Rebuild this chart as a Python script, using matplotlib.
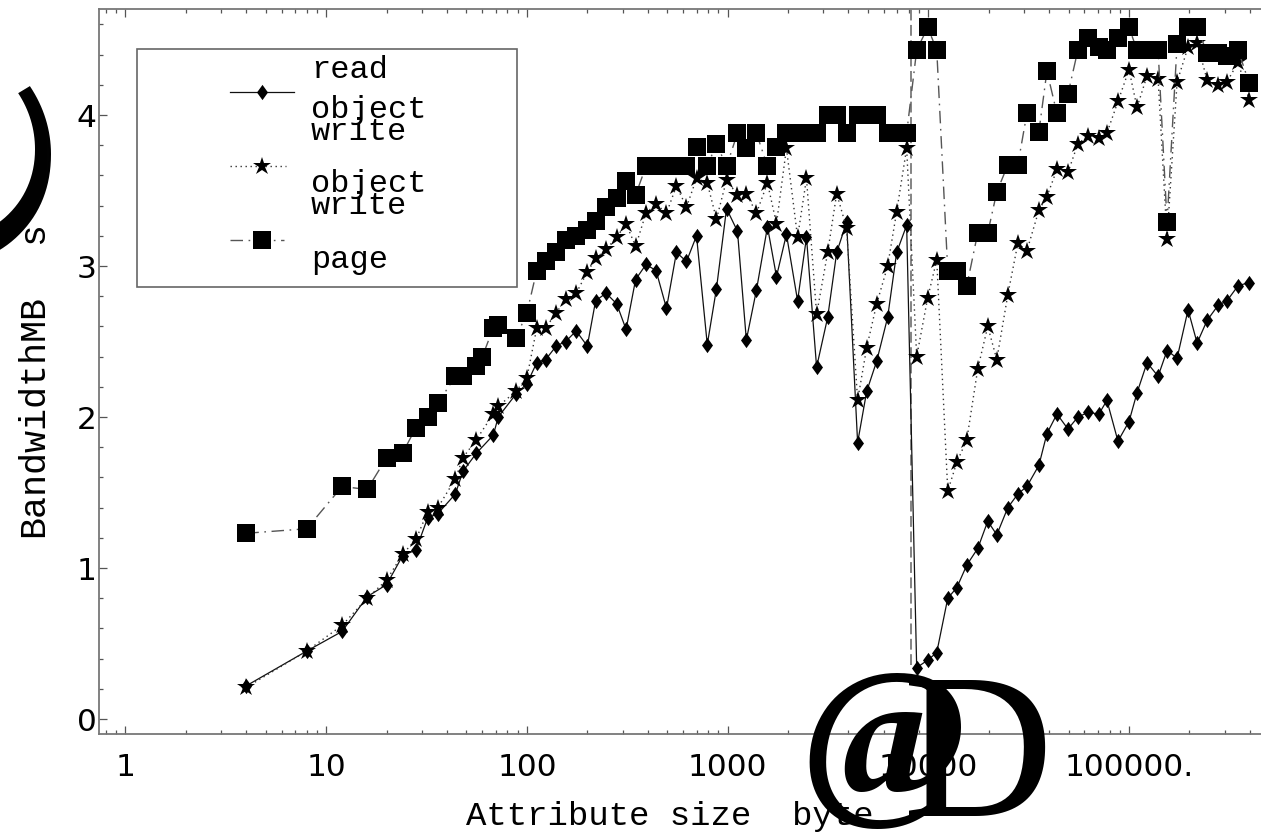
import matplotlib
matplotlib.use("Agg")
import matplotlib.pyplot as plt
from matplotlib.lines import Line2D
from matplotlib.patches import Rectangle
from matplotlib.ticker import FixedLocator, FixedFormatter, LogLocator, NullFormatter, MultipleLocator

W, H, DPI = 1261, 832, 100

# ---------------------------------------------------------------- data
read_sizes = [4, 8, 12, 16, 20, 24, 28, 32, 36, 44,
              48, 56, 68, 72, 88, 100, 112, 124, 140, 156,
              176, 200, 220, 248, 280, 312, 348, 392, 440, 496,
              556, 624, 700, 792, 880, 988, 1120, 1240, 1392, 1580,
              1752, 1964, 2232, 2472, 2776, 3152, 3496, 3916, 4444, 4932,
              5532, 6272, 6956, 7800, 8752, 9932, 11016, 12500, 13868, 15556,
              17640, 19780, 21940, 24900, 27932, 30980, 35560, 38992, 43752, 49652,
              55620, 62400, 70800, 77600, 88100, 100000, 109600, 123000, 139600, 154700,
              173600, 196900, 218400, 245000, 278000, 308000, 349700, 397000]
read_object = [0.22, 0.45, 0.58, 0.81, 0.89, 1.08, 1.12, 1.33, 1.36, 1.49,
               1.64, 1.76, 1.88, 2.00, 2.15, 2.22, 2.36, 2.38, 2.47, 2.50,
               2.57, 2.47, 2.77, 2.82, 2.75, 2.58, 2.91, 3.01, 2.97, 2.72,
               3.09, 3.03, 3.20, 2.48, 2.85, 3.38, 3.23, 2.51, 2.84, 3.26,
               2.93, 3.21, 2.77, 3.19, 2.33, 2.66, 3.09, 3.29, 1.83, 2.17,
               2.37, 2.66, 3.09, 3.27, 0.34, 0.39, 0.44, 0.80, 0.87, 1.02,
               1.13, 1.31, 1.22, 1.40, 1.49, 1.54, 1.68, 1.89, 2.02, 1.92,
               2.00, 2.03, 2.02, 2.11, 1.84, 1.97, 2.16, 2.36, 2.27, 2.44,
               2.39, 2.71, 2.49, 2.64, 2.74, 2.77, 2.87, 2.89]

object_sizes = list(read_sizes)
write_object = [0.21, 0.45, 0.62, 0.80, 0.92, 1.09, 1.19, 1.37, 1.40, 1.59,
                1.73, 1.85, 2.02, 2.07, 2.17, 2.26, 2.59, 2.59, 2.69, 2.78,
                2.82, 2.96, 3.05, 3.11, 3.19, 3.28, 3.13, 3.35, 3.41, 3.35,
                3.53, 3.39, 3.58, 3.55, 3.31, 3.57, 3.47, 3.48, 3.35, 3.55,
                3.28, 3.78, 3.19, 3.58, 2.68, 3.09, 3.48, 3.25, 2.11, 2.46,
                2.75, 3.00, 3.36, 3.78, 2.40, 2.79, 3.04, 1.51, 1.70, 1.85,
                2.32, 2.60, 2.38, 2.81, 3.15, 3.10, 3.37, 3.46, 3.64, 3.62,
                3.81, 3.86, 3.85, 3.88, 4.09, 4.30, 4.05, 4.26, 4.24, 3.18,
                4.22, 4.45, 4.48, 4.23, 4.20, 4.22, 4.35, 4.10]

page_sizes = [4, 8, 12, 16, 20, 24, 28, 32, 36, 44,
              48, 56, 60, 68, 72, 88, 100, 112, 124, 140,
              156, 176, 200, 220, 248, 280, 312, 348, 392, 440,
              496, 556, 624, 700, 792, 880, 988, 1120, 1240, 1392,
              1580, 1752, 1964, 2232, 2472, 2776, 3152, 3496, 3916, 4444,
              4932, 5532, 6272, 6956, 7800, 8752, 9932, 11016, 12500, 13868,
              15556, 17640, 19780, 21940, 24900, 27932, 30980, 35560, 38992, 43752,
              49652, 55620, 62400, 70800, 77600, 88100, 100000, 109600, 123000, 139600,
              154700, 173600, 196900, 218400, 245000, 278000, 308000, 349700, 397000]
write_page = [1.23, 1.26, 1.54, 1.52, 1.73, 1.76, 1.93, 2.00, 2.09, 2.27,
              2.27, 2.34, 2.40, 2.59, 2.61, 2.52, 2.69, 2.97, 3.03, 3.09,
              3.17, 3.20, 3.24, 3.30, 3.39, 3.45, 3.56, 3.47, 3.66, 3.66,
              3.66, 3.66, 3.66, 3.79, 3.66, 3.81, 3.66, 3.88, 3.78, 3.88,
              3.66, 3.79, 3.88, 3.88, 3.88, 3.88, 4.00, 4.00, 3.88, 4.00,
              4.00, 4.00, 3.88, 3.88, 3.88, 4.43, 4.58, 4.43, 2.97, 2.97,
              2.87, 3.22, 3.22, 3.49, 3.67, 3.67, 4.01, 3.89, 4.29, 4.01,
              4.14, 4.43, 4.51, 4.45, 4.43, 4.51, 4.58, 4.43, 4.43, 4.43,
              3.29, 4.47, 4.58, 4.58, 4.41, 4.41, 4.39, 4.43, 4.21]

page_boundary = 8192          # bytes, dashed marker line
page_boundary_floor = 0.36

x_ticks = [1, 10, 100, 1000, 10000, 100000]
x_tick_labels = ["1", "10", "100", "1000", "10000", "100000."]
y_ticks = [0, 1, 2, 3, 4]
y_tick_labels = ["0", "1", "2", "3", "4"]

# ---------------------------------------------------------------- helpers
def fx(px):
    return px / W

def fy(py):
    return 1.0 - py / H

MONO = "Liberation Mono"
SERIF = "Liberation Serif"
GRAY = "#777777"

diamond = [(0, 1), (0.72, 0), (0, -1), (-0.72, 0), (0, 1)]

read_style = dict(color="#111111", lw=0.9, ls="-", marker=diamond, ms=11.0,
                  mfc="black", mec="black", mew=0)
object_style = dict(color="#333333", lw=1.0, ls=(0, (1.0, 2.6)), marker="*", ms=13.5,
                    mfc="black", mec="black", mew=0)
page_style = dict(color="#555555", lw=1.0, ls=(0, (9, 4, 1.2, 4)), marker="s", ms=13.4,
                  mfc="black", mec="black", mew=0)

# ---------------------------------------------------------------- figure
fig = plt.figure(figsize=(W / DPI, H / DPI), dpi=DPI)
left_px, right_px, top_px, bottom_px = 99, 1262, 9, 734
ax = fig.add_axes([fx(left_px), fy(bottom_px), (right_px - left_px) / W, (bottom_px - top_px) / H])

ax.set_xscale("log")
ax.set_xlim(0.738, 459800)
ax.set_ylim(-0.0993, 4.702)

ax.plot([page_boundary, page_boundary], [page_boundary_floor, 5.0], color="#7a7a7a",
        lw=1.3, ls=(0, (6, 2.5)), zorder=1)
ax.plot(read_sizes, read_object, zorder=3, **read_style)
ax.plot(object_sizes, write_object, zorder=4, **object_style)
ax.plot(page_sizes, write_page, zorder=5, **page_style)

# axes frame and ticks
for side in ("left", "bottom", "top"):
    ax.spines[side].set_color(GRAY)
    ax.spines[side].set_linewidth(1.3)
ax.spines["right"].set_visible(False)

ax.xaxis.set_major_locator(FixedLocator(x_ticks))
ax.xaxis.set_major_formatter(FixedFormatter(x_tick_labels))
ax.xaxis.set_minor_locator(LogLocator(base=10, subs=range(2, 10), numticks=20))
ax.xaxis.set_minor_formatter(NullFormatter())
ax.yaxis.set_major_locator(FixedLocator(y_ticks))
ax.yaxis.set_major_formatter(FixedFormatter(y_tick_labels))
ax.yaxis.set_minor_locator(MultipleLocator(0.2))

ax.tick_params(which="both", direction="in", top=True, right=False, color="#555555", width=0.9)
ax.tick_params(which="major", length=5.5)
ax.tick_params(which="minor", length=3.0)
ax.tick_params(axis="x", which="major", labelsize=22.5, pad=14, labelcolor="black")
ax.tick_params(axis="y", which="major", labelsize=22.5, pad=1.5, labelcolor="black")
for lbl in ax.get_xticklabels() + ax.get_yticklabels():
    lbl.set_fontfamily("DejaVu Sans")

# ---------------------------------------------------------------- legend
box = Rectangle((fx(137), fy(287)), fx(517) - fx(137), fy(49) - fy(287),
                transform=fig.transFigure, facecolor="white", edgecolor="#666666",
                lw=1.2, zorder=10)
fig.add_artist(box)

def legend_sample(y_px, style, x0=230, x1=294, xm=262):
    ln = Line2D([fx(x0), fx(x1)], [fy(y_px), fy(y_px)], transform=fig.transFigure,
                color=style["color"], lw=style["lw"], ls=style["ls"], zorder=11)
    mk = Line2D([fx(xm)], [fy(y_px)], transform=fig.transFigure, ls="none",
                marker=style["marker"], ms=style["ms"], mfc="black", mec="black",
                mew=0, zorder=12)
    fig.add_artist(ln)
    fig.add_artist(mk)

legend_sample(92, read_style)
legend_sample(166, object_style, x1=286)
legend_sample(240, page_style, x1=284)

legend_lines = [("read", 78), ("object", 118), ("write", 140),
                ("object", 192), ("write", 214), ("page", 268)]
for txt, base in legend_lines:
    fig.text(fx(311), fy(base), txt, family=MONO, fontsize=23.0, va="baseline",
             ha="left", zorder=13)

# ---------------------------------------------------------------- axis labels
fig.text(fx(466), fy(825), "Attribute size  byte", family=MONO, fontsize=24.5,
         va="baseline", ha="left")
fig.text(fx(799), fy(794), "@", family=SERIF, fontsize=132, fontweight="bold",
         va="baseline", ha="left")
fig.text(fx(903), fy(816), "D", family=SERIF, fontsize=150, va="baseline", ha="left")

fig.text(fx(43), fy(537), "BandwidthMB", family=MONO, fontsize=26.5, rotation=90,
         rotation_mode="anchor", va="baseline", ha="left")
fig.text(fx(43), fy(244), "s", family=MONO, fontsize=26.5, rotation=90,
         rotation_mode="anchor", va="baseline", ha="left")
fig.text(fx(-9), fy(266), "@", family="DejaVu Serif", fontsize=183, fontweight="bold",
         rotation=90, rotation_mode="anchor", va="baseline", ha="left")

fig.savefig("out.png", dpi=DPI)
